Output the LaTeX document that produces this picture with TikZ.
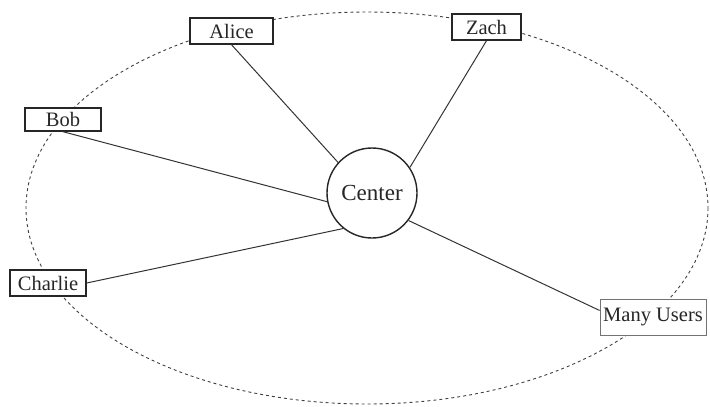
\documentclass[tikz,border=0pt]{standalone}
\usepackage{fontspec}
\setmainfont{Liberation Serif}
\begin{document}
\begin{tikzpicture}[x=1pt,y=-1pt,
  userbox/.style={draw=black!85,line width=1.4pt,rectangle,inner sep=0pt,
    font=\fontsize{20.5}{23}\selectfont,text=black!85},
  hub/.style={draw=black!85,line width=1.4pt,circle,minimum size=90pt,inner sep=0pt,
    font=\fontsize{23}{25}\selectfont,text=black!85},
  link/.style={draw=black!80,line width=1pt},
  ring/.style={draw=black!75,line width=0.9pt,dash pattern=on 3pt off 3pt}]
\useasboundingbox (0,0) rectangle (710,407);
\draw[ring] (367,208) ellipse [x radius=341,y radius=196];
\node[hub] (c) at (372,193) {Center};
\node[userbox,minimum width=83pt,minimum height=26pt,fill=white] (alice) at (231.5,31) {Alice};
\node[userbox,minimum width=69pt,minimum height=26pt,fill=white] (zach) at (486.5,27) {Zach};
\node[userbox,minimum width=76pt,minimum height=23pt,fill=white] (bob) at (63,119.5) {Bob};
\node[userbox,minimum width=76pt,minimum height=26pt,fill=white] (charlie) at (48,283) {Charlie};
\node[userbox,draw=black!55,line width=0.9pt,minimum width=106pt,minimum height=36pt,fill=white] (many) at (653,317) {Many Users};
\draw[link] (alice.south) -- (c.138);
\draw[link] (zach.south) -- (c.34);
\draw[link] (bob.south) -- (c.191);
\draw[link] (charlie.east) -- (c.231);
\draw[link] (many.173) -- (c.323);
\end{tikzpicture}
\end{document}
